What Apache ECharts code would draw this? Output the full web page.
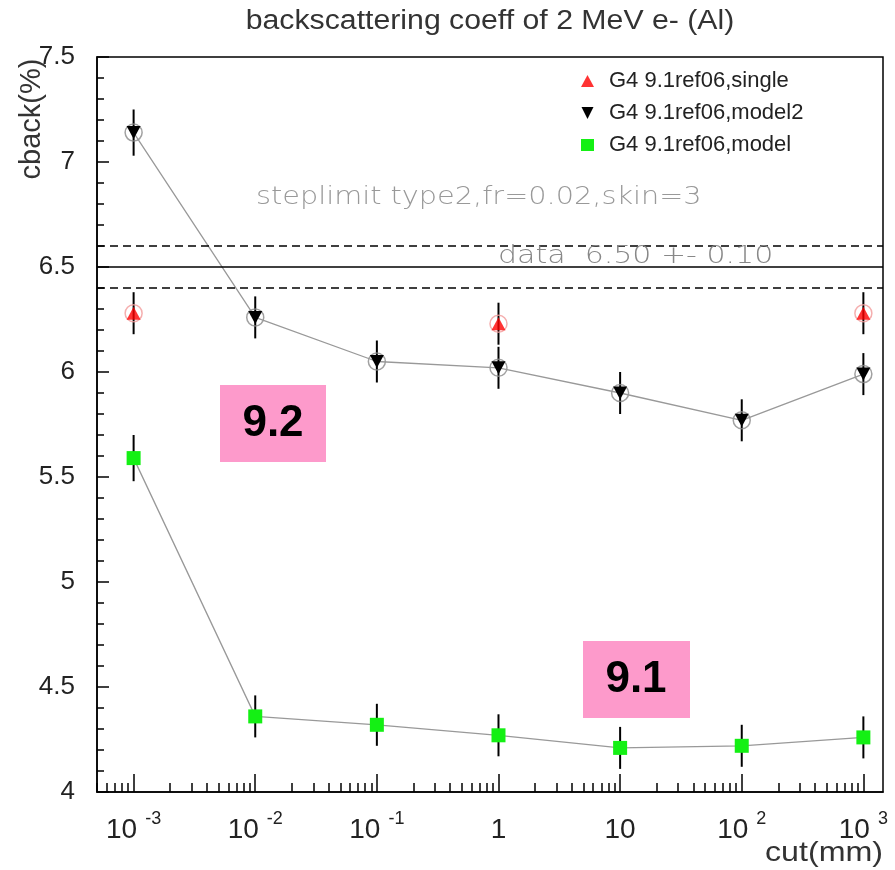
<!DOCTYPE html>
<html>
<head>
<meta charset="utf-8">
<script src="https://cdn.jsdelivr.net/npm/echarts@6/dist/echarts.min.js"></script>
<style>
  html, body { margin: 0; padding: 0; background: #fff; }
  #chart { width: 895px; height: 870px; }
</style>
</head>
<body>
<div id="chart"></div>
<script>
// Production cut values (mm) and backscattering coefficients (%)
const cuts = [0.001, 0.01, 0.1, 1, 10, 100, 1000];
const model2 = [7.14, 6.26, 6.05, 6.02, 5.90, 5.77, 5.99];
const model2Err = [0.11, 0.10, 0.10, 0.10, 0.10, 0.10, 0.10];
const model = [5.59, 4.36, 4.32, 4.27, 4.21, 4.22, 4.26];
const modelErr = [0.11, 0.10, 0.10, 0.10, 0.10, 0.10, 0.10];
const singleCuts = [0.001, 1, 1000];
const single = [6.28, 6.23, 6.28];
const singleErr = [0.10, 0.10, 0.10];

// Measured reference value
const dataValue = 6.50;
const dataErr = 0.10;

// Axis ranges and tick values
const xMin = 0.0005, xMax = 1450;
const majorTicks = [0.001, 0.01, 0.1, 1, 10, 100, 1000];
const minorTicks = [];
for (let k = -4; k <= 3; k++) {
  for (let m = 2; m <= 9; m++) {
    const v = m * Math.pow(10, k);
    if (v >= xMin && v <= xMax) minorTicks.push(Number(v.toPrecision(3)));
  }
}
const yMin = 4, yMax = 7.5, yStep = 0.5;

const names = ['G4 9.1ref06,single', 'G4 9.1ref06,model2', 'G4 9.1ref06,model'];
const downTriangle = 'path://M0,0 L10,0 L5,10 Z';

function pairs(xs, ys) { return xs.map((x, i) => [x, ys[i]]); }
function errRows(xs, ys, es) { return xs.map((x, i) => [x, ys[i], es[i]]); }

function errorBars(rows) {
  return {
    type: 'custom',
    silent: true,
    z: 1,
    data: rows,
    encode: { x: 0, y: 1 },
    renderItem(params, api) {
      const x = api.value(0), y = api.value(1), e = api.value(2);
      const lo = api.coord([x, y - e]);
      const hi = api.coord([x, y + e]);
      return {
        type: 'line',
        shape: { x1: lo[0], y1: lo[1], x2: hi[0], y2: hi[1] },
        style: { stroke: '#000', lineWidth: 2 }
      };
    }
  };
}

function xLabel(v) {
  const e = Math.round(Math.log10(v));
  if (e === 0) return '{b|1}';
  if (e === 1) return '{b|10}';
  return '{b|10}{s|' + e + '}';
}

const SANS = '"Liberation Sans", Arial, sans-serif';
const STROKE = '"DejaVu Sans", sans-serif';

const chart = echarts.init(document.getElementById('chart'), null, { renderer: 'canvas' });

const option = {
  backgroundColor: '#fff',
  animation: false,
  textStyle: { fontFamily: SANS },
  grid: {
    left: 97, right: 12, top: 57, bottom: 78,
    show: true, borderColor: '#000', borderWidth: 1.5, backgroundColor: 'transparent'
  },
  legend: {
    orient: 'vertical',
    left: 576, top: 65,
    itemWidth: 13, itemHeight: 12, itemGap: 10,
    textStyle: { fontSize: 22, color: '#222', padding: [0, 0, 0, 10], lineHeight: 22 },
    data: [
      { name: names[0], icon: 'triangle' },
      { name: names[1], icon: downTriangle },
      { name: names[2], icon: 'rect' }
    ]
  },
  xAxis: [
    {
      type: 'log', logBase: 10, min: xMin, max: xMax,
      axisLine: { show: true, lineStyle: { color: '#000', width: 1.5 } },
      axisTick: { show: true, inside: true, length: 18, customValues: majorTicks,
                  lineStyle: { color: '#000', width: 1.5 } },
      axisLabel: {
        show: true, customValues: majorTicks, margin: 18,
        formatter: xLabel,
        rich: {
          b: { fontSize: 28, color: '#222', lineHeight: 34, verticalAlign: 'bottom' },
          s: { fontSize: 18, color: '#222', lineHeight: 34, verticalAlign: 'top', padding: [0, 0, 0, 8] }
        }
      },
      splitLine: { show: false }
    },
    {
      type: 'log', logBase: 10, min: xMin, max: xMax, position: 'bottom',
      axisLine: { show: false },
      axisTick: { show: true, inside: true, length: 9, customValues: minorTicks,
                  lineStyle: { color: '#000', width: 1.5 } },
      axisLabel: { show: false },
      splitLine: { show: false }
    }
  ],
  yAxis: {
    type: 'value', min: yMin, max: yMax, interval: yStep,
    axisLine: { show: true, lineStyle: { color: '#000', width: 1.5 } },
    axisTick: { show: true, inside: true, length: 12, lineStyle: { color: '#000', width: 1.5 } },
    minorTick: { show: true, splitNumber: 5, length: 7, lineStyle: { color: '#000', width: 1.5 } },
    axisLabel: { fontSize: 26, color: '#222', margin: 22 },
    splitLine: { show: false }
  },
  series: [
    errorBars(errRows(cuts, model2, model2Err)),
    errorBars(errRows(cuts, model, modelErr)),
    errorBars(errRows(singleCuts, single, singleErr)),
    {
      type: 'scatter', silent: true, z: 2,
      data: pairs(cuts, model2),
      symbol: 'circle', symbolSize: 17,
      itemStyle: { color: 'rgba(0,0,0,0)', borderColor: '#8a8a8a', borderWidth: 1.5 }
    },
    {
      type: 'scatter', silent: true, z: 2,
      data: pairs(singleCuts, single),
      symbol: 'circle', symbolSize: 17,
      itemStyle: { color: 'rgba(0,0,0,0)', borderColor: '#f39a9a', borderWidth: 1.5 }
    },
    {
      name: names[1], type: 'line', z: 3,
      data: pairs(cuts, model2),
      symbol: downTriangle, symbolSize: [14, 13],
      itemStyle: { color: '#000' },
      lineStyle: { color: '#999', width: 1.3 },
      markLine: {
        silent: true, symbol: 'none', label: { show: false },
        data: [
          { yAxis: dataValue, lineStyle: { color: '#000', width: 1.5, type: 'solid' } },
          { yAxis: dataValue + dataErr, lineStyle: { color: '#000', width: 1.5, type: [8, 5] } },
          { yAxis: dataValue - dataErr, lineStyle: { color: '#000', width: 1.5, type: [8, 5] } }
        ]
      }
    },
    {
      name: names[2], type: 'line', z: 3,
      data: pairs(cuts, model),
      symbol: 'rect', symbolSize: 14,
      itemStyle: { color: '#14f014' },
      lineStyle: { color: '#999', width: 1.3 }
    },
    {
      name: names[0], type: 'scatter', z: 3,
      data: pairs(singleCuts, single),
      symbol: 'triangle', symbolSize: [14, 13],
      itemStyle: { color: '#ff0000' }
    }
  ],
  graphic: [
    {
      type: 'text', x: 490, y: 22, scaleX: 1.12, z: 10,
      style: {
        text: 'backscattering coeff of 2 MeV e- (Al)',
        font: '27px ' + SANS,
        fill: '#333', textAlign: 'center', textVerticalAlign: 'middle'
      }
    },
    {
      type: 'text', x: 32, y: 119, rotation: Math.PI / 2, z: 10,
      style: {
        text: 'cback(%)',
        font: '29px ' + SANS,
        fill: '#333', textAlign: 'center', textVerticalAlign: 'middle'
      }
    },
    {
      type: 'text', x: 883, y: 853, scaleX: 1.15, z: 10,
      style: {
        text: 'cut(mm)',
        font: '28px ' + SANS,
        fill: '#333', textAlign: 'right', textVerticalAlign: 'middle'
      }
    },
    {
      type: 'text', x: 256, y: 197, scaleX: 1.15, z: 10,
      style: {
        text: 'steplimit type2,fr=0.02,skin=3',
        font: '200 25px ' + STROKE,
        fill: '#999', textAlign: 'left', textVerticalAlign: 'middle'
      }
    },
    {
      type: 'text', x: 498, y: 256, scaleX: 1.2, z: 10,
      style: {
        text: 'data  ' + dataValue.toFixed(2) + ' +- ' + dataErr.toFixed(2),
        font: '200 25px ' + STROKE,
        fill: '#888', textAlign: 'left', textVerticalAlign: 'middle'
      }
    },
    {
      type: 'group', x: 220, y: 385, z: 20,
      children: [
        { type: 'rect', shape: { x: 0, y: 0, width: 106, height: 77 }, style: { fill: '#fd9acb' } },
        { type: 'text', x: 53, y: 39, style: { text: '9.2', font: 'bold 44px ' + SANS,
            fill: '#000', textAlign: 'center', textVerticalAlign: 'middle' } }
      ]
    },
    {
      type: 'group', x: 583, y: 641, z: 20,
      children: [
        { type: 'rect', shape: { x: 0, y: 0, width: 107, height: 77 }, style: { fill: '#fd9acb' } },
        { type: 'text', x: 53, y: 39, style: { text: '9.1', font: 'bold 44px ' + SANS,
            fill: '#000', textAlign: 'center', textVerticalAlign: 'middle' } }
      ]
    }
  ]
};

chart.setOption(option);
</script>
</body>
</html>
